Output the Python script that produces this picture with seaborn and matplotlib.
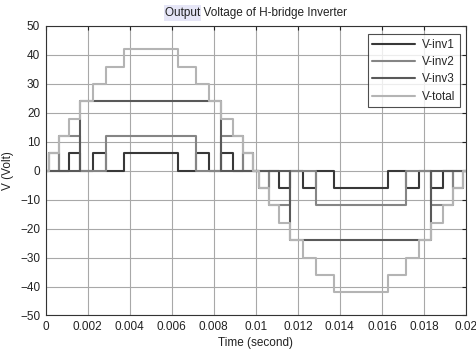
import matplotlib
matplotlib.use("Agg")
import matplotlib.pyplot as plt
from matplotlib.patches import Rectangle
import seaborn as sns
import pandas as pd

# ---- data ----
# switching instants of the positive half cycle (s); negative half is shifted by 0.01 s
t_half = [0.0, 0.00015, 0.00062, 0.0011, 0.00164, 0.00223, 0.00286, 0.00371,
          0.00629, 0.00714, 0.00777, 0.00836, 0.0089, 0.00938, 0.00985]
half_period = 0.01
t_end = 0.02
v_inv1 = [0, 6, 0, 6, 0, 6, 0, 6, 0, 6, 0, 6, 0, 6, 0]
v_inv2 = [0, 0, 12, 12, 0, 0, 12, 12, 12, 0, 0, 12, 12, 0, 0]
v_inv3 = [0, 0, 0, 0, 24, 24, 24, 24, 24, 24, 24, 0, 0, 0, 0]
v_total = [0, 6, 12, 18, 24, 30, 36, 42, 36, 30, 24, 18, 12, 6, 0]
series_names = ["V-inv1", "V-inv2", "V-inv3", "V-total"]
x_ticks = [0, 0.002, 0.004, 0.006, 0.008, 0.01, 0.012, 0.014, 0.016, 0.018, 0.02]
x_ticklabels = ["0", "0.002", "0.004", "0.006", "0.008", "0.01", "0.012",
                "0.014", "0.016", "0.018", "0.02"]
y_ticks = [-50, -40, -30, -20, -10, 0, 10, 20, 30, 40, 50]
title_text = "Output Voltage of H-bridge Inverter"

# ---- build long-form table ----
rows = []
for name, vals in zip(series_names, [v_inv1, v_inv2, v_inv3, v_total]):
    times = list(t_half) + [t + half_period for t in t_half] + [t_end]
    values = list(vals) + [-v for v in vals] + [0]
    for t, v in zip(times, values):
        rows.append({"Time": t, "V": v, "series": name})
df = pd.DataFrame(rows)

sns.set_style("white")
plt.rcParams["font.family"] = ["Liberation Sans", "DejaVu Sans"]
fs = 8.5

fig = plt.figure(figsize=(4.77, 3.54), dpi=100)
ax = fig.add_axes([0.0958, 0.1088, 0.881, 0.8178])

palette = {"V-inv1": "#383838", "V-inv2": "#858585", "V-inv3": "#595959",
           "V-total": "#b4b4b4"}
sns.lineplot(data=df, x="Time", y="V", hue="series", hue_order=series_names,
             palette=palette, estimator=None, drawstyle="steps-post",
             linewidth=1.5, ax=ax, legend=True)

ax.set_xlim(0, 0.02)
ax.set_ylim(-50, 50)
ax.set_xticks(x_ticks)
ax.set_xticklabels(x_ticklabels)
ax.set_yticks(y_ticks)
ax.grid(True, color="#a8a8a8", linewidth=0.8)
ax.set_axisbelow(True)
ax.tick_params(direction="in", length=3, width=0.8, labelsize=fs,
               top=True, right=True, colors="#222222", pad=4)
for s in ax.spines.values():
    s.set_visible(True)
    s.set_color("#333333")
    s.set_linewidth(0.8)

ax.set_xlabel("Time (second)", fontsize=fs, labelpad=3, color="#222222")
ax.set_ylabel("V (Volt)", fontsize=fs, labelpad=4, color="#222222")

leg = ax.legend(loc="upper right", bbox_to_anchor=(1 - 6 / 420, 1 - 8 / 289.5),
                borderaxespad=0, fontsize=fs, frameon=True, fancybox=False,
                edgecolor="#222222", handlelength=3.6, labelspacing=0.45,
                handletextpad=0.6, borderpad=0.4)
leg.get_frame().set_linewidth(0.8)
for line in leg.get_lines():
    line.set_linewidth(1.5)

title = ax.set_title(title_text, fontsize=fs, pad=7, color="#222222")

# selection highlight behind the word "Output"
fig.canvas.draw()
r = fig.canvas.get_renderer()
tb = title.get_window_extent(r)
tmp = fig.text(0, 0, "Output", fontsize=fs)
wb = tmp.get_window_extent(r)
tmp.remove()
W, H = fig.bbox.width, fig.bbox.height
rect = Rectangle(((tb.x0 - 1) / W, (tb.y0 - 2) / H), (wb.width + 2) / W,
                 (tb.height + 4) / H, transform=fig.transFigure,
                 facecolor="#e6e6f7", edgecolor="none", zorder=-1)
fig.patches.append(rect)

fig.savefig("out.png", dpi=100)
